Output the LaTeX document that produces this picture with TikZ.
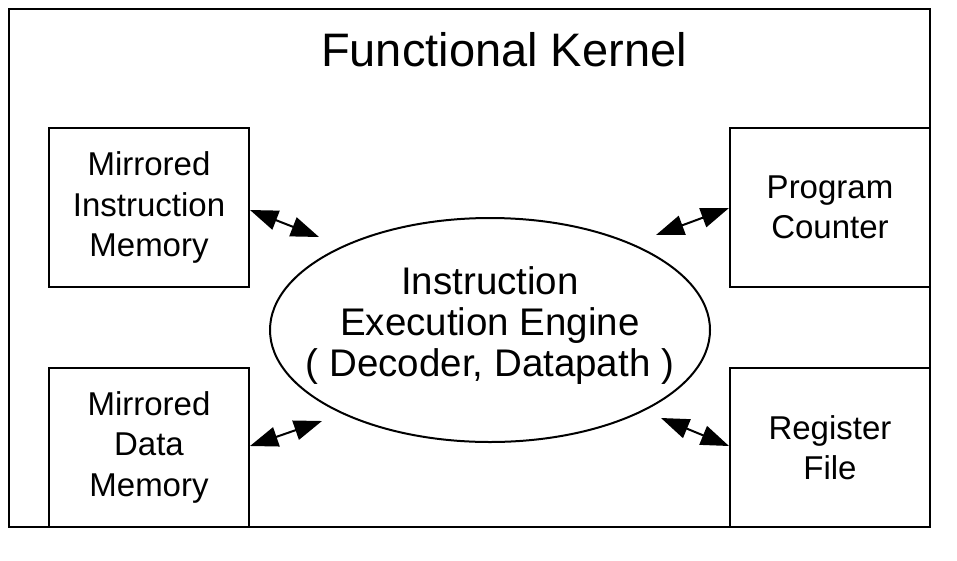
\documentclass[tikz,border=0pt]{standalone}
\usepackage{fontspec}
\setmainfont{Liberation Sans}
\usetikzlibrary{arrows.meta,shapes.geometric}
\begin{document}
\begin{tikzpicture}[x=1pt,y=-1pt,
  unit/.style={draw,line width=2pt,minimum width=200pt,minimum height=159pt,
    align=center,font=\fontsize{33}{40.5}\selectfont,inner sep=0pt},
  engine/.style={draw,ellipse,line width=2pt,minimum width=440pt,minimum height=224pt},
  enginetext/.style={align=center,font=\fontsize{38.5}{41}\selectfont,inner sep=0pt},
  link/.style={line width=2pt,{Triangle[length=28pt,width=20pt]}-{Triangle[length=28pt,width=20pt]}}]
\useasboundingbox (0,0) rectangle (957,560);
\fill[white] (0,0) rectangle (957,560);
% outer frame
\draw[line width=2pt] (9,9) rectangle (930,527);
\node[font=\fontsize{47}{50}\selectfont] (title) at (504,50) {Functional Kernel};
% storage units
\node[unit] (imem) at (149,207.5) {Mirrored\\Instruction\\Memory};
\node[unit] (dmem) at (149,447) {Mirrored\\Data\\Memory};
\node[unit] (pc) at (830,207.5) {Program\\Counter};
\node[unit] (rf) at (830,447.5) {Register\\File};
% execution engine
\node[engine] (eng) at (490,330) {};
\node[enginetext] (engl) at (490,326) {Instruction\\Execution Engine\\( Decoder, Datapath )};
% connections
\coordinate (a1) at (250,210);
\coordinate (b1) at (319,237);
\coordinate (a2) at (729,208);
\coordinate (b2) at (656,235);
\coordinate (a3) at (250,446);
\coordinate (b3) at (322,421);
\coordinate (a4) at (729,446);
\coordinate (b4) at (661,418);
\draw[link] (a1) -- (b1);
\draw[link] (a2) -- (b2);
\draw[link] (a3) -- (b3);
\draw[link] (a4) -- (b4);
\end{tikzpicture}
\end{document}
